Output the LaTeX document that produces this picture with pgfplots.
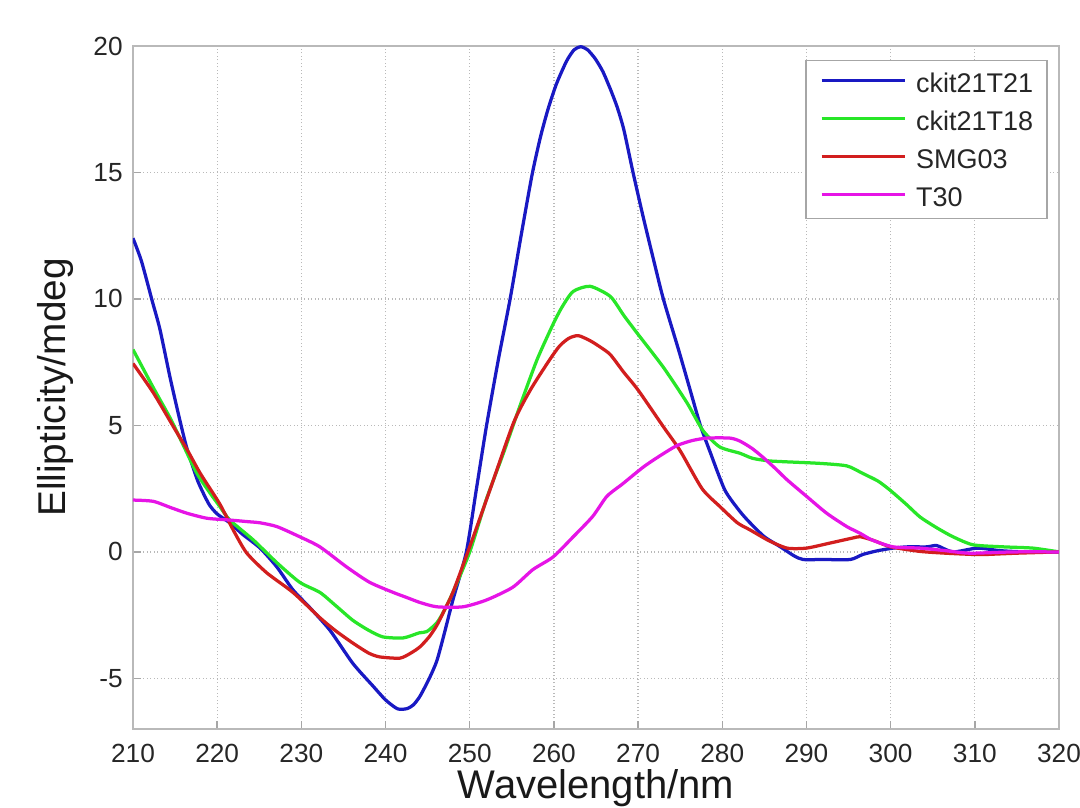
\documentclass[border=0pt]{standalone}
\usepackage{pgfplots}
\pgfplotsset{compat=1.18}
\usepackage{fontspec}
\setmainfont{Liberation Sans}
\definecolor{cblue}{RGB}{25,25,195}
\definecolor{cgreen}{RGB}{40,230,40}
\definecolor{cred}{RGB}{210,30,30}
\definecolor{cmag}{RGB}{230,20,230}
\begin{document}
\begin{tikzpicture}
\begin{axis}[
  scale only axis,
  width=370.4pt, height=273.2pt,
  xmin=210, xmax=320, ymin=-7, ymax=20,
  xtick={210,220,...,320},
  ytick={-5,0,5,10,15,20},
  grid=major,
  major grid style={densely dotted, gray!55, line width=0.5pt},
  axis line style={gray!55, line width=0.9pt},
  tick style={gray!70, line width=0.6pt},
  major tick length=3.2pt,
  tick align=inside,
  xtick pos=bottom, ytick pos=left,
  /pgf/number format/assume math mode=true,
  /pgf/number format/1000 sep={},
  ticklabel style={font=\fontsize{10.5}{12}\selectfont, text=black!85},
  xticklabel style={yshift=-2.4pt},
  yticklabel style={xshift=-0.6pt},
  xlabel={Wavelength/nm},
  ylabel={Ellipticity/mdeg},
  xlabel style={at={(axis description cs:0.5,-0.0579)}, anchor=north, inner sep=0pt, font=\fontsize{16}{19}\selectfont, text=black!90},
  ylabel style={at={(axis description cs:-0.0832,0.5)}, anchor=center, inner sep=0pt, font=\fontsize{15.5}{18}\selectfont, text=black!90},
  legend style={at={(1,1)}, anchor=north east, xshift=-4.4pt, yshift=-5.6pt,
    draw=gray!70, line width=0.6pt, fill=white,
    font=\fontsize{10.8}{13}\selectfont, text=black!85,
    inner xsep=5.6pt, inner ysep=4.8pt,
    row sep=7.2pt,
    nodes={inner sep=0pt, text height=8pt, text depth=0pt},
    /tikz/column 1/.style={column sep=4pt}},
  legend cell align=left,
  legend image code/.code={\draw[#1, line width=1.3pt] (0pt,0.8pt) -- (33.2pt,0.8pt);},
  every axis plot/.append style={line width=1.3pt, line join=round, smooth, tension=0.4},
]
\addplot[cblue] coordinates {
(210,12.4) (211,11.5) (212.3,9.9) (213.2,8.8) (214.4,6.9) (215.5,5.3) (216.4,4.1)
(217.7,2.8) (219,1.9) (220,1.5) (221.5,1.15) (223,0.7) (225.1,0.15) (227.1,-0.6)
(229,-1.5) (231,-2.2) (233.4,-3.1) (236.1,-4.4) (238.5,-5.3) (240,-5.85)
(241.4,-6.2) (242.5,-6.2) (243.3,-6.05) (244.1,-5.7) (245.2,-5.0) (246.1,-4.3)
(247,-3.2) (248,-1.9) (249.6,0) (250.8,2.5) (252,5) (253.4,7.6) (254.8,10)
(256.1,12.5) (257.4,14.9) (258.4,16.4) (259.3,17.5) (260.3,18.5) (261.5,19.4)
(262.4,19.85) (263.2,19.97) (264,19.85) (264.9,19.5) (265.8,19.0) (266.7,18.3)
(267.5,17.6) (268.3,16.7) (269.4,15)
(270.6,13.25) (271.8,11.6) (273,10) (274.8,8.0) (276.1,6.5) (277.4,5.0)
(278.5,4.0) (280.3,2.45) (282.1,1.6) (283.3,1.15) (285,0.6) (286.9,0.2)
(288.5,-0.15) (289.6,-0.3) (292,-0.3) (295.2,-0.3) (296.7,-0.1) (298.5,0.05)
(300.3,0.15) (302,0.2) (304.3,0.2) (305.5,0.25) (307.4,0) (310.3,0.15) (313,0.05)
(316,0) (320,0)};
\addlegendentry{ckit21T21}
\addplot[cgreen] coordinates {
(210,8.0) (212.4,6.5) (214.4,5.3) (216,4.2) (217.6,3.1) (219,2.4) (220.3,1.8)
(221.5,1.26) (224.3,0.47) (227.1,-0.43) (229.8,-1.2) (232.2,-1.6) (234,-2.1)
(236.1,-2.7) (238,-3.1) (239.7,-3.36) (242.1,-3.4) (244,-3.2) (244.9,-3.15)
(246.1,-2.8) (247,-2.3) (248,-1.6) (250,0) (252,2.1) (254,3.9) (256,5.8)
(258,7.6) (259.9,9.0) (261,9.7) (262.3,10.3) (264.3,10.5) (266.7,10.1)
(268.3,9.35) (270,8.6) (273,7.3) (275.8,5.9) (277.7,4.8) (279.7,4.15)
(282.1,3.9) (283.6,3.7) (285.5,3.6) (287.7,3.56)
(291.6,3.5) (294.8,3.4) (296.7,3.1) (298.5,2.8) (299.9,2.45) (301.8,1.9)
(303.5,1.38) (305.5,0.95) (307.4,0.6) (309.8,0.28) (313.4,0.2) (316.9,0.15)
(320,0)};
\addlegendentry{ckit21T18}
\addplot[cred] coordinates {
(210,7.45) (212.4,6.3) (214.8,4.95) (216.5,4.0) (218,3.1) (220.3,1.9)
(221.9,0.87) (223.5,-0.04) (225.9,-0.83) (229,-1.6) (232.2,-2.6) (234,-3.1)
(236.1,-3.6) (238,-4.0) (239.3,-4.15) (241.7,-4.2) (243,-4.0) (244.1,-3.75)
(245.2,-3.35) (246.1,-2.9) (247,-2.3) (248,-1.6) (250,0.2) (252.4,2.45)
(255.2,5.1) (257.2,6.4) (259.5,7.6) (260.7,8.15) (261.8,8.45) (262.9,8.55) (264.3,8.35)
(265.5,8.1) (266.7,7.8) (268.3,7.1) (270,6.4) (273,4.95) (275,4.0)
(277.6,2.5) (279.7,1.8) (281.8,1.15) (283.3,0.87) (285.5,0.45) (287.7,0.15)
(290,0.15) (292.8,0.35) (295.5,0.55) (296.4,0.6) (298,0.45) (300,0.2)
(303.5,0.02) (306.5,-0.05) (309.8,-0.1) (311.4,-0.1) (315,-0.05) (320,0)};
\addlegendentry{SMG03}
\addplot[cmag] coordinates {
(210,2.05) (212.4,2.0) (214.5,1.75) (216.4,1.53) (218.8,1.33) (221.5,1.26)
(223.5,1.2) (225.1,1.15) (227.1,1.0) (229.8,0.6) (232.2,0.2) (235.4,-0.6)
(238.1,-1.2) (240.9,-1.6) (242.5,-1.8) (244.1,-2.0) (246.1,-2.17) (249.2,-2.17)
(252,-1.9) (255.1,-1.4) (257.5,-0.7) (259.9,-0.2) (262.3,0.6) (264.6,1.4)
(266.3,2.2) (268.2,2.7) (270.6,3.35) (272.6,3.8) (274.6,4.2) (276.4,4.4)
(278.2,4.5) (280.9,4.5) (282.1,4.38) (283.5,4.1) (284.8,3.75) (286.3,3.3)
(287.7,2.85) (290,2.2) (292.4,1.53) (294.8,1.0) (296.3,0.75) (297.8,0.47)
(300.3,0.2) (303.5,0.15) (306.5,0.05) (309.4,-0.05) (314.6,0) (320,0)};
\addlegendentry{T30}
\end{axis}
\pgfresetboundingbox
\useasboundingbox (-53.2pt,-31.6pt) rectangle (378.8pt,291.6pt);
\end{tikzpicture}
\end{document}
